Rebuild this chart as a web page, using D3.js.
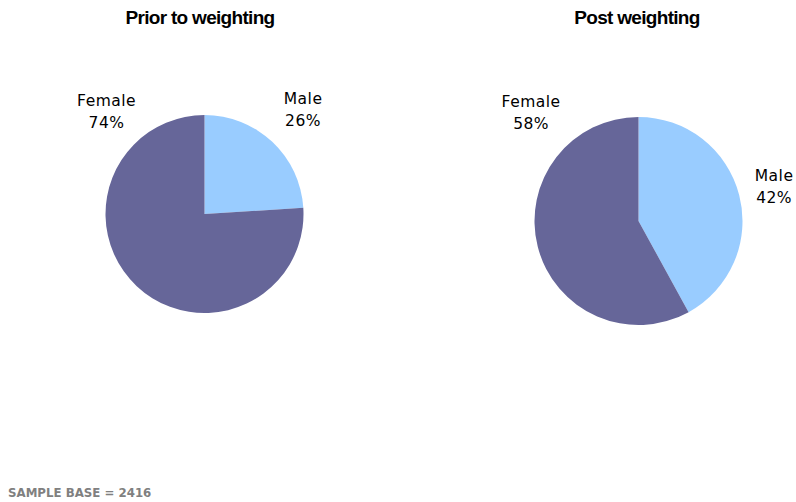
<!DOCTYPE html>
<html>
<head>
<meta charset="utf-8">
<script src="https://cdn.jsdelivr.net/npm/d3@7"></script>
<style>
  html, body { margin: 0; padding: 0; background: #ffffff; }
  svg { display: block; }
</style>
</head>
<body>
<svg id="chart" width="796" height="502"></svg>
<script>
// ---- data ----
const categories = ["Male", "Female"];
const chartTitles = ["Prior to weighting", "Post weighting"];
// slice shares as drawn in the picture
const priorValues = [24, 76];
const postValues = [42, 58];
// percentage labels as printed in the picture
const priorLabels = ["26%", "74%"];
const postLabels = ["42%", "58%"];
const colors = ["#99CCFF", "#666699"];
const footnote = "SAMPLE BASE = 2416";

// ---- layout ----
const svg = d3.select("#chart");
const layout = [
  { cx: 204.5, cy: 214, r: 99, titleX: 200, labelDist: [144, 142], femaleAngle: -43.6 },
  { cx: 638.5, cy: 221, r: 104, titleX: 637, labelDist: [140, 152.7], femaleAngle: -44.7 }
];
const series = [
  { values: priorValues, labels: priorLabels },
  { values: postValues, labels: postLabels }
];

const pie = d3.pie().sort(null).value(d => d.value);
const color = d3.scaleOrdinal().domain(categories).range(colors);

series.forEach((s, i) => {
  const L = layout[i];
  const data = categories.map((c, j) => ({ cat: c, value: s.values[j], label: s.labels[j] }));
  const arcs = pie(data);
  const arc = d3.arc().innerRadius(0).outerRadius(L.r);

  // title
  svg.append("text")
    .attr("x", L.titleX)
    .attr("y", 24)
    .attr("text-anchor", "middle")
    .attr("font-family", "'Liberation Sans', Arial, sans-serif")
    .attr("font-weight", "bold")
    .attr("font-size", 19)
    .attr("letter-spacing", "-0.7px")
    .attr("fill", "#000")
    .text(chartTitles[i]);

  const g = svg.append("g").attr("transform", `translate(${L.cx},${L.cy})`);
  g.selectAll("path")
    .data(arcs)
    .join("path")
    .attr("d", arc)
    .attr("fill", d => color(d.data.cat));

  // labels
  arcs.forEach((a, j) => {
    const ang = j === 0 ? (a.startAngle + a.endAngle) / 2 : L.femaleAngle * Math.PI / 180;
    const dist = L.labelDist[j];
    const px = Math.sin(ang) * dist;
    const py = -Math.cos(ang) * dist;
    const t = g.append("text")
      .attr("text-anchor", "middle")
      .attr("font-family", "'DejaVu Sans', Verdana, sans-serif")
      .attr("font-size", 15.5)
      .attr("letter-spacing", "0.5px")
      .attr("fill", "#000");
    t.append("tspan").attr("x", px).attr("y", py - 5).text(a.data.cat);
    t.append("tspan").attr("x", px).attr("y", py + 16.5).text(a.data.label);
  });
});

svg.append("text")
  .attr("x", 8)
  .attr("y", 496.5)
  .attr("font-family", "'DejaVu Sans', Verdana, sans-serif")
  .attr("font-weight", "bold")
  .attr("font-size", 11.8)
  .attr("fill", "#808080")
  .text(footnote);
</script>
</body>
</html>
